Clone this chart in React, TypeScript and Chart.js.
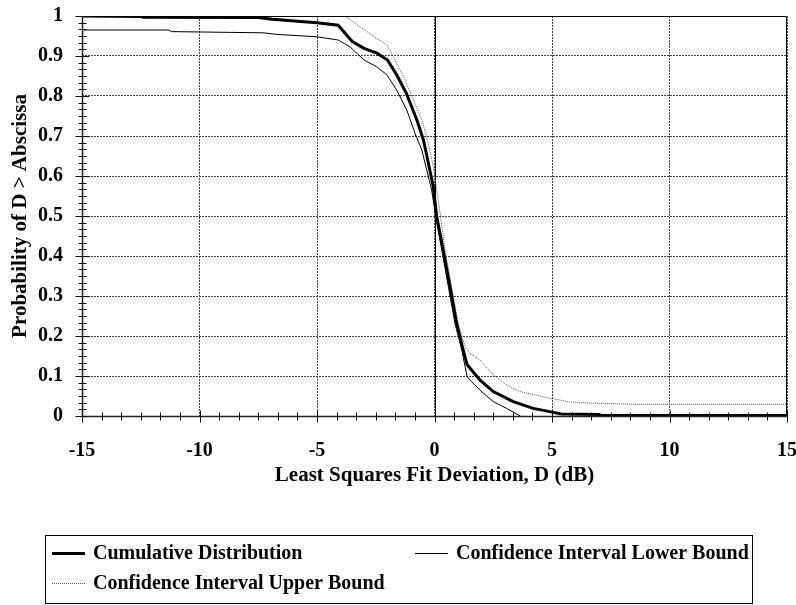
import React, { useEffect, useRef } from "react";
import { Chart, registerables } from "chart.js";

Chart.register(...registerables);

// ---- data ----
const cumX = [-15, -12.5, -12.4, -7.5, -6.9, -6.1, -5.0, -4.1, -3.5, -3.0, -2.45, -2.0, -1.6, -1.2, -0.75, -0.47, -0.26, -0.05, 0.09, 0.37, 0.66, 0.94, 1.22, 1.39, 1.93, 2.5, 3.35, 4.2, 4.9, 5.4, 7.0, 7.1, 15];
const cumY = [1.0, 0.999, 0.997, 0.996, 0.992, 0.988, 0.983, 0.977, 0.936, 0.919, 0.907, 0.89, 0.852, 0.807, 0.74, 0.69, 0.632, 0.573, 0.5, 0.415, 0.323, 0.232, 0.165, 0.128, 0.09, 0.061, 0.036, 0.019, 0.011, 0.005, 0.004, 0.001, 0.001];

const lowX = [-15, -11.3, -11.2, -7.3, -6.7, -5.0, -4.1, -3.6, -3.0, -2.46, -2.03, -1.61, -1.18, -0.83, -0.54, -0.33, -0.12, 0.02, 0.31, 0.59, 0.87, 1.16, 1.39, 1.58, 1.93, 2.5, 3.07, 3.56, 3.65];
const lowY = [0.965, 0.965, 0.961, 0.958, 0.954, 0.948, 0.94, 0.923, 0.89, 0.873, 0.853, 0.815, 0.765, 0.707, 0.665, 0.615, 0.565, 0.51, 0.415, 0.323, 0.232, 0.165, 0.098, 0.086, 0.065, 0.036, 0.019, 0.003, 0.0];

const upX = [-15, -3.8, -3.17, -2.46, -2.03, -1.68, -1.25, -0.9, -0.54, -0.26, -0.05, 0.16, 0.45, 0.73, 1.01, 1.3, 1.51, 1.93, 2.5, 3.07, 3.63, 4.34, 4.91, 5.33, 5.76, 6.75, 8.7, 15];
const upY = [1.0, 1.0, 0.973, 0.944, 0.928, 0.89, 0.84, 0.79, 0.74, 0.682, 0.623, 0.54, 0.415, 0.323, 0.232, 0.173, 0.157, 0.14, 0.103, 0.078, 0.061, 0.052, 0.044, 0.04, 0.035, 0.032, 0.029, 0.029];

const seriesLabels = [
  "Cumulative Distribution",
  "Confidence Interval Lower Bound",
  "Confidence Interval Upper Bound",
];

const xMin = -15;
const xMax = 15;
const xMajor = 5;
const yMin = 0;
const yMax = 1;
const yMajor = 0.1;
const minorPerMajor = 6;

const xTitle = "Least Squares Fit Deviation, D (dB)";
const yTitle = "Probability of D > Abscissa";

const FONT = "'Liberation Serif', 'Times New Roman', serif";

const toPoints = (xs: number[], ys: number[]) => xs.map((x, i) => ({ x, y: ys[i] }));

const decorPlugin = {
  id: "decor",
  beforeDatasetsDraw(chart: any) {
    const { ctx, chartArea: a, scales } = chart;
    const x = scales.x;
    ctx.save();
    ctx.strokeStyle = "#000";
    ctx.lineWidth = 1;
    const zx = Math.round(x.getPixelForValue(0)) + 0.5;
    ctx.beginPath();
    ctx.moveTo(zx, a.top);
    ctx.lineTo(zx, a.bottom);
    ctx.stroke();
    ctx.restore();
  },
  afterDraw(chart: any) {
    const { ctx, chartArea: a, scales } = chart;
    const x = scales.x;
    const y = scales.y;
    ctx.save();
    // frame
    ctx.strokeStyle = "#000";
    ctx.lineWidth = 1;
    const L = Math.round(a.left) + 0.5;
    const R = Math.round(a.right) - 0.5;
    const T = Math.round(a.top) + 0.5;
    const B = Math.round(a.bottom) + 0.5;
    ctx.beginPath();
    ctx.moveTo(L, T);
    ctx.lineTo(R, T);
    ctx.lineTo(R, B);
    ctx.stroke();
    ctx.strokeStyle = "#222";
    ctx.lineWidth = 1.5;
    ctx.beginPath();
    ctx.moveTo(L, T);
    ctx.lineTo(L, B);
    ctx.lineTo(R, B);
    ctx.stroke();

    // tick marks (major crossing, minor crossing shorter)
    ctx.lineWidth = 1;
    ctx.strokeStyle = "#111";
    const xStep = xMajor / minorPerMajor;
    const nx = Math.round((xMax - xMin) / xStep);
    for (let i = 0; i <= nx; i++) {
      const v = xMin + i * xStep;
      const px = Math.round(x.getPixelForValue(v)) + 0.5;
      const major = i % minorPerMajor === 0;
      const len = major ? 6 : 4;
      ctx.beginPath();
      ctx.moveTo(px, B - len);
      ctx.lineTo(px, B + len);
      ctx.stroke();
    }
    const yStep = yMajor / minorPerMajor;
    const ny = Math.round((yMax - yMin) / yStep);
    for (let i = 0; i <= ny; i++) {
      const v = yMin + i * yStep;
      const py = Math.round(y.getPixelForValue(v)) + 0.5;
      const major = i % minorPerMajor === 0;
      const len = major ? 7 : 4;
      ctx.beginPath();
      ctx.moveTo(L - len, py);
      ctx.lineTo(L + len, py);
      ctx.stroke();
    }

    // legend
    const boxL = 45.5, boxT = 535.5, boxR = 752.5, boxB = 603.5;
    ctx.strokeStyle = "#000";
    ctx.lineWidth = 1;
    ctx.strokeRect(boxL, boxT, boxR - boxL, boxB - boxT);
    const slots = [
      { x: 52, y: 553 },
      { x: 415, y: 553 },
      { x: 52, y: 583 },
    ];
    ctx.font = `bold 20px ${FONT}`;
    ctx.textBaseline = "middle";
    ctx.textAlign = "left";
    chart.data.datasets.forEach((ds: any, i: number) => {
      const s = slots[i];
      ctx.save();
      ctx.strokeStyle = ds.borderColor;
      ctx.lineWidth = ds.borderWidth;
      ctx.setLineDash(ds.borderDash || []);
      ctx.beginPath();
      const ly = Math.round(s.y) + (ds.borderWidth % 2 === 1 ? 0.5 : 0);
      ctx.moveTo(s.x, ly);
      ctx.lineTo(s.x + 33, ly);
      ctx.stroke();
      ctx.restore();
      ctx.fillStyle = "#000";
      ctx.fillText(ds.label, s.x + 41, s.y + 1);
    });
    ctx.restore();
  },
};

export default function App() {
  const ref = useRef<HTMLCanvasElement | null>(null);

  useEffect(() => {
    if (!ref.current) return;
    const chart = new Chart(ref.current, {
      type: "line",
      data: {
        datasets: [
          {
            label: seriesLabels[0],
            data: toPoints(cumX, cumY),
            borderColor: "#000",
            borderWidth: 3,
            pointRadius: 0,
            tension: 0,
            fill: false,
          },
          {
            label: seriesLabels[1],
            data: toPoints(lowX, lowY),
            borderColor: "#000",
            borderWidth: 1,
            pointRadius: 0,
            tension: 0,
            fill: false,
          },
          {
            label: seriesLabels[2],
            data: toPoints(upX, upY),
            borderColor: "#555",
            borderWidth: 1,
            borderDash: [1, 1],
            pointRadius: 0,
            tension: 0,
            fill: false,
          },
        ],
      },
      options: {
        animation: false,
        responsive: false,
        devicePixelRatio: 1,
        layout: { padding: { left: 0, top: 16, right: 9, bottom: 114 } },
        plugins: {
          legend: { display: false },
          tooltip: { enabled: false },
        },
        scales: {
          x: {
            type: "linear",
            min: xMin,
            max: xMax,
            afterFit: (s: any) => {
              s.height = 75;
              s.paddingLeft = 0;
              s.paddingRight = 0;
            },
            ticks: {
              stepSize: xMajor,
              padding: 23,
              color: "#000",
              font: { family: FONT, size: 20, weight: "bold" },
              maxRotation: 0,
              callback: (v: any) => String(v),
            },
            grid: {
              drawTicks: false,
              color: "#444",
              lineWidth: 1,
            },
            border: { display: false, dash: [2, 1] },
            title: {
              display: true,
              text: xTitle,
              color: "#000",
              font: { family: FONT, size: 21, weight: "bold" },
              padding: { top: 0, bottom: 3 },
            },
          },
          y: {
            type: "linear",
            min: yMin,
            max: yMax,
            afterFit: (s: any) => {
              s.width = 82;
              s.paddingTop = 0;
              s.paddingBottom = 0;
            },
            ticks: {
              stepSize: yMajor,
              padding: 19,
              color: "#000",
              font: { family: FONT, size: 20, weight: "bold" },
              callback: (v: any) => String(Math.round(Number(v) * 10) / 10),
            },
            grid: {
              drawTicks: false,
              color: "#444",
              lineWidth: 1,
            },
            border: { display: false, dash: [2, 1] },
            title: {
              display: true,
              text: yTitle,
              color: "#000",
              font: { family: FONT, size: 21, weight: "bold" },
              padding: { top: 8, bottom: 0 },
            },
          },
        },
      },
      plugins: [decorPlugin],
    } as any);
    return () => chart.destroy();
  }, []);

  return (
    <div style={{ position: "absolute", left: 0, top: 0, width: 796, height: 605, background: "#fff" }}>
      <canvas ref={ref} width={796} height={605} style={{ width: 796, height: 605, display: "block" }} />
    </div>
  );
}
